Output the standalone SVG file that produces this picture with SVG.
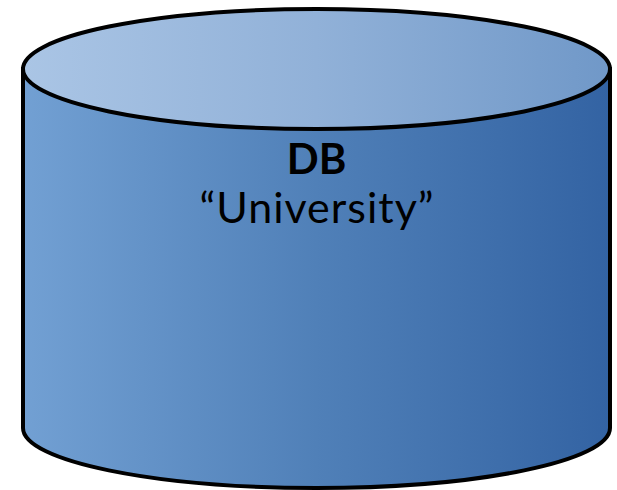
<svg xmlns="http://www.w3.org/2000/svg" width="617" height="490" viewBox="0 0 617 490">
<defs>
<linearGradient id="body" x1="0" y1="0" x2="1" y2="0"><stop offset="0" stop-color="#72a0d3"/><stop offset="0.5" stop-color="#5080b8"/><stop offset="1" stop-color="#3363a3"/></linearGradient>
<linearGradient id="top" x1="0" y1="0" x2="1" y2="0"><stop offset="0" stop-color="#aac5e5"/><stop offset="0.5" stop-color="#91b1d8"/><stop offset="1" stop-color="#7098c8"/></linearGradient>
</defs>
<style>
.o{stroke:#000;stroke-width:4}
text{font-family:Lato,"Liberation Sans",sans-serif;fill:#000;text-anchor:middle}
</style>
<g id="db">
<path class="o" fill="url(#body)" d="M23 69V428C23 461 154 488 316.500 488S610 461 610 428V69Z"/>
<ellipse class="o" fill="url(#top)" cx="316.500" cy="69" rx="293.500" ry="60"/>
<text x="316.500" y="173.500" font-size="42" font-weight="700">DB</text>
<text x="317" y="222.500" font-size="43" letter-spacing="1">“University”</text>
</g>
</svg>
